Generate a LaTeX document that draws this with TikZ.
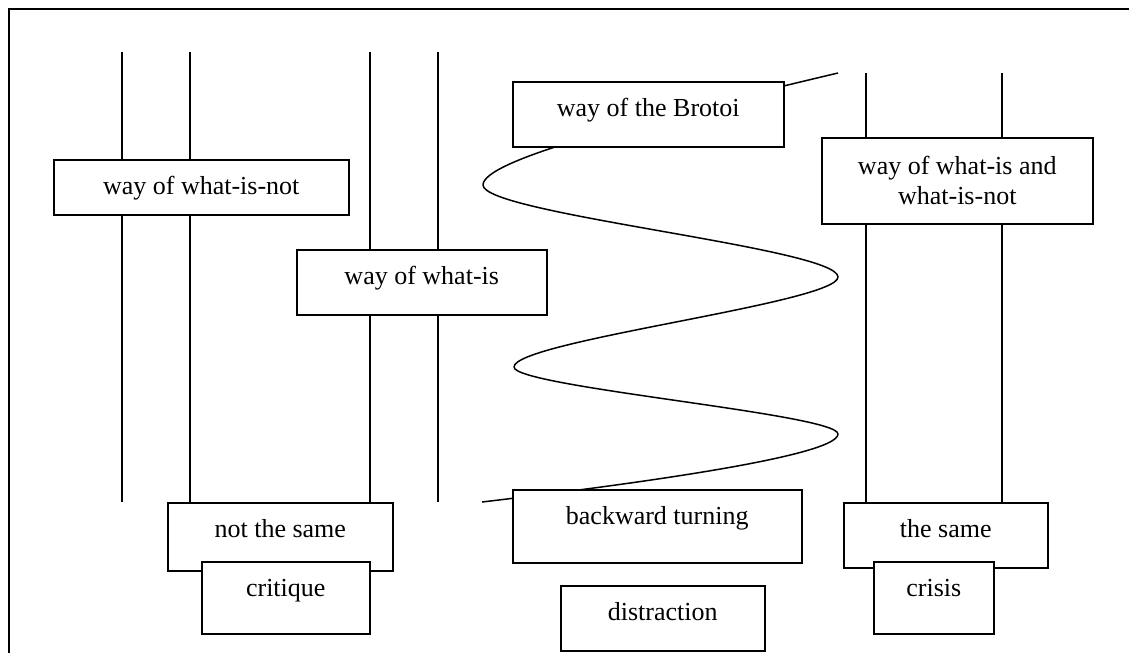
\documentclass[tikz,border=0pt]{standalone}
\usepackage{fontspec}
\setmainfont{Liberation Serif}
\pgfdeclarelayer{paper}
\pgfdeclarelayer{background}
\pgfsetlayers{paper,background,main}
\tikzset{
  frame/.style={draw, fill=white, line width=1.5pt, inner sep=0pt, anchor=north west,
    font=\fontsize{26}{30}\selectfont},
  bx/.style={frame, text height=35pt},
  wire/.style={line width=1.5pt, line cap=butt},
}
\begin{document}
\begin{tikzpicture}[x=1pt, y=-1pt]
\useasboundingbox (0,0) rectangle (1129,653);
\begin{pgfonlayer}{paper}
\fill[white] (0,0) rectangle (1129,653);
\end{pgfonlayer}
% outer frame (right and bottom edges lie outside the picture)
\draw[line width=1.5pt] (1129,9) -- (9,9) -- (9,653);

% boxes
\node[bx, minimum width=295pt, text depth=20pt] (wnot) at (53,159) {way of what-is-not};
\node[bx, minimum width=250pt, text depth=30pt] (wis) at (296,249) {way of what-is};
\node[bx, minimum width=271pt, text depth=30pt] (brotoi) at (512,81) {way of the Brotoi};
\node[frame, minimum width=271pt, minimum height=86pt, align=center] (wboth) at (821,137) {way of what-is and\\what-is-not};
\node[bx, minimum width=225pt, text depth=33pt] (notsame) at (167,502) {not the same};
\node[bx, minimum width=168pt, text depth=37pt] (critique) at (201,561) {critique};
\node[bx, minimum width=289pt, text depth=38pt] (backward) at (512,489) {backward turning};
\node[bx, minimum width=204pt, text depth=30pt] (distraction) at (560,585) {distraction};
\node[bx, minimum width=204pt, text depth=30pt] (same) at (843,502) {the same};
\node[bx, minimum width=120pt, text depth=37pt] (crisis) at (873,561) {crisis};

% free ends of the lines
\coordinate (t1) at (122,52);
\coordinate (b1) at (122,502);
\coordinate (t2) at (190,52);
\coordinate (t3) at (370,52);
\coordinate (t4) at (438,52);
\coordinate (b4) at (438,502);
\coordinate (t5) at (866,73);
\coordinate (t6) at (1002,73);
\coordinate (cs) at (838,73);
\coordinate (ce) at (482,502);

\begin{pgfonlayer}{background}
\draw[wire] (t1) -- (b1);
\draw[wire] (t2) -- (t2 |- notsame.north);
\draw[wire] (t3) -- (t3 |- notsame.north);
\draw[wire] (t4) -- (b4);
\draw[wire] (t5) -- (t5 |- same.north);
\draw[wire] (t6) -- (t6 |- same.north);
% the winding path
\draw[wire, line join=round] (cs)
  .. controls (640,120) and (483,160) .. (483,185)
  .. controls (483,214) and (838,248) .. (838,277)
  .. controls (838,303) and (514,341) .. (514,367)
  .. controls (514,387) and (838,414) .. (838,434)
  .. controls (838,458) and (600,488) .. (ce);
\end{pgfonlayer}
\end{tikzpicture}
\end{document}
